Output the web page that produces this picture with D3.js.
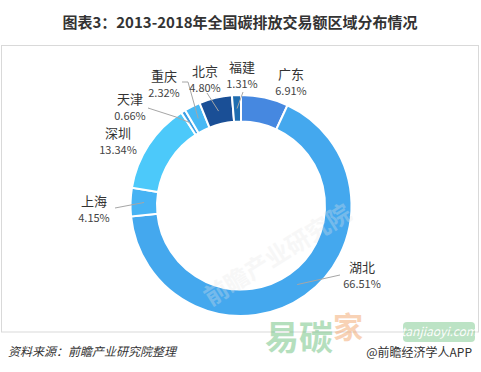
<!DOCTYPE html>
<html>
<head>
<meta charset="utf-8">
<script src="https://cdn.jsdelivr.net/npm/d3@7"></script>
<style>
  body { margin: 0; background: #fff; }
  svg { display: block; font-family: "Microsoft YaHei", "Noto Sans CJK SC", sans-serif; }
</style>
</head>
<body>
<script>
// chart data
var regions = ["广东", "湖北", "上海", "深圳", "天津", "重庆", "北京", "福建"];
var shares = [6.91, 66.51, 4.15, 13.34, 0.66, 2.32, 4.80, 1.31];
var sliceColors = ["#4688e0", "#44a8ee", "#47b3f4", "#4cc9fa", "#3a9fe6", "#47b8f4", "#1a4f96", "#1f6db0"];

// label placement (relative to donut centre) and leader line bends
var labelPos = [[50, -131], [121, 62], [-147, -4], [-123, -71.5], [-111, -105.5], [-77, -129], [-36, -134], [1, -138]];
var leaderEnds = [null, [[99, 69.5]], [[-126, 2.5]], null, [[-65, -88.5], [-93, -97.5]], [[-53, -123.5], [-59, -123.5]], [[-34, -112.5]], [[2, -113.5]]];

(function(){
  var width = 481, height = 372;
  var cx = 241, cy = 205.5, rOuter = 110.5, rInner = 84;

  var svg = d3.select("body").append("svg")
    .attr("width", width)
    .attr("height", height);

  // title
  svg.append("text")
    .attr("x", 240).attr("y", 28)
    .attr("text-anchor", "middle")
    .attr("font-size", 15).attr("font-weight", "bold")
    .attr("fill", "#333")
    .text("图表3：2013-2018年全国碳排放交易额区域分布情况");

  // frame
  svg.append("rect")
    .attr("x", 1.5).attr("y", 45.5)
    .attr("width", 477).attr("height", 286.5)
    .attr("fill", "none").attr("stroke", "#d9d9d9");

  var data = regions.map(function(r, i){ return {name: r, value: shares[i], i: i}; });

  var pie = d3.pie().sort(null).value(function(d){ return d.value; });
  var arcs = pie(data);

  var arc = d3.arc().innerRadius(rInner).outerRadius(rOuter);
  var midArc = d3.arc().innerRadius(97).outerRadius(97);

  var g = svg.append("g").attr("transform", "translate(" + cx + "," + cy + ")");

  g.selectAll(".slice")
    .data(arcs)
    .enter()
    .append("path")
    .attr("class", "slice")
    .attr("d", arc)
    .attr("fill", function(d){ return sliceColors[d.data.i]; })
    .attr("stroke", "#fff")
    .attr("stroke-width", 2);

  // leader lines
  var line = d3.line();
  g.selectAll(".leader")
    .data(arcs.filter(function(d){ return leaderEnds[d.data.i]; }))
    .enter()
    .append("path")
    .attr("class", "leader")
    .attr("d", function(d){
      return line([midArc.centroid(d)].concat(leaderEnds[d.data.i]));
    })
    .attr("fill", "none")
    .attr("stroke", "#a6a6a6")
    .attr("stroke-width", 1);

  // labels
  var labels = g.selectAll(".lbl")
    .data(arcs)
    .enter()
    .append("g")
    .attr("class", "lbl")
    .attr("transform", function(d){ var p = labelPos[d.data.i]; return "translate(" + p[0] + "," + p[1] + ")"; });

  labels.append("text")
    .attr("text-anchor", "middle")
    .attr("y", 4)
    .attr("font-size", 13)
    .attr("fill", "#333")
    .text(function(d){ return d.data.name; });

  labels.append("text")
    .attr("text-anchor", "middle")
    .attr("y", 20)
    .attr("font-size", 11)
    .attr("fill", "#444")
    .text(function(d){ return d.data.value.toFixed(2) + "%"; });

  // faint watermark
  svg.append("text")
    .attr("transform", "translate(282,262) rotate(-32)")
    .attr("text-anchor", "middle")
    .attr("font-size", 24).attr("font-weight", "bold")
    .attr("fill", "#e6e6e6").attr("opacity", 0.3)
    .text("前瞻产业研究院");

  // site logo
  var logo = svg.append("g").attr("opacity", 0.5);
  logo.append("text")
    .attr("x", 265).attr("y", 350)
    .attr("font-size", 34).attr("font-weight", "bold")
    .attr("fill", "#6cc07e")
    .text("易碳");
  logo.append("text")
    .attr("x", 333).attr("y", 338)
    .attr("font-size", 30).attr("font-weight", "bold")
    .attr("fill", "#f3a66e")
    .text("家");
  logo.append("rect")
    .attr("x", 403).attr("y", 322)
    .attr("width", 72).attr("height", 20).attr("rx", 4)
    .attr("fill", "#7cc98c");
  logo.append("text")
    .attr("x", 439).attr("y", 336)
    .attr("text-anchor", "middle")
    .attr("font-size", 12).attr("font-style", "italic")
    .attr("fill", "#fff")
    .text("tanjiaoyi.com");

  // footer
  svg.append("text")
    .attr("x", 8).attr("y", 356)
    .attr("font-size", 12).attr("font-style", "italic")
    .attr("fill", "#333")
    .text("资料来源：前瞻产业研究院整理");

  svg.append("text")
    .attr("x", 472).attr("y", 357)
    .attr("text-anchor", "end")
    .attr("font-size", 12)
    .attr("fill", "#333")
    .text("@前瞻经济学人APP");
})();
</script>
</body>
</html>
